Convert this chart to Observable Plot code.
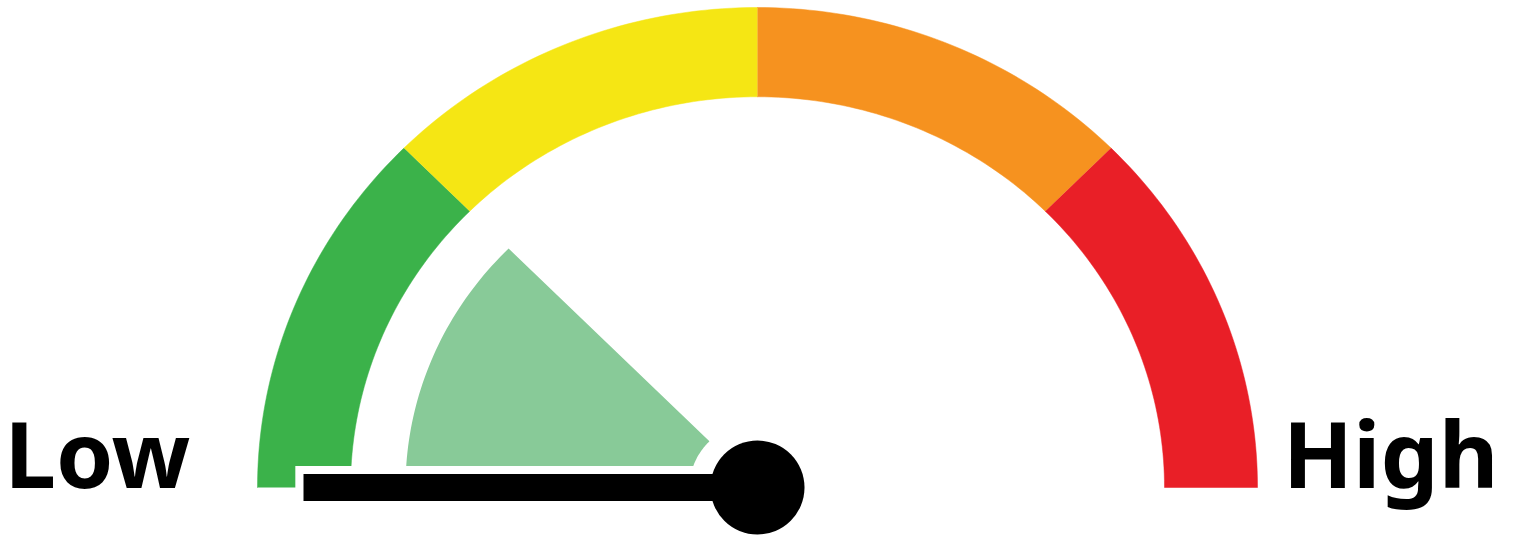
<!DOCTYPE html>
<html><head><meta charset="utf-8">
<script src="https://cdn.jsdelivr.net/npm/d3@7"></script>
<script src="https://cdn.jsdelivr.net/npm/@observablehq/plot@0.6"></script>
<style>html,body{margin:0;padding:0;background:#fff;overflow:hidden}</style>
</head><body><div id="chart"></div>
<script>
// Gauge bands (angles in degrees, 180 = far left, 0 = far right)
const bands = ["Low", "Medium-Low", "Medium-High", "High"];
const bandStart = [180, 135, 90, 45];
const bandEnd = [135, 90, 45, 0];
const bandColors = ["#3bb24a", "#f5e614", "#f6921f", "#e91f27"];
// Highlighted range and needle
const rangeStart = [180];
const rangeEnd = [135];
const needleAngle = [180];
const labels = ["Low", "High"];

const W = 1516, H = 539;
const outerR = 1, innerR = 0.814, wedgeOuter = 0.704, wedgeInner = 0.136, needleLen = 0.908;
const rad = d => d * Math.PI / 180;

function arcPoly(a0, a1, r0, r1, key) {
  const pts = [];
  const n = Math.max(2, Math.ceil(Math.abs(a0 - a1)));
  for (let i = 0; i <= n; i++) { const a = a0 + (a1 - a0) * i / n; pts.push({x: r1 * Math.cos(rad(a)), y: r1 * Math.sin(rad(a)), key}); }
  for (let i = n; i >= 0; i--) { const a = a0 + (a1 - a0) * i / n; pts.push({x: r0 * Math.cos(rad(a)), y: r0 * Math.sin(rad(a)), key}); }
  return pts;
}

const bandPts = bands.flatMap((b, i) => arcPoly(bandStart[i], bandEnd[i], innerR, outerR, bandColors[i]));
const wedgePts = rangeStart.flatMap((s, i) => arcPoly(s, rangeEnd[i], wedgeInner, wedgeOuter, "#88ca98"));
const needle = needleAngle.map(a => ({x1: 0, y1: 0, x2: needleLen * Math.cos(rad(a)), y2: needleLen * Math.sin(rad(a))}));
const needleLine = needle.flatMap(n => [{x: n.x2, y: n.y2}, {x: n.x1, y: n.y1}]);
const needleBack = needle.flatMap(n => [{x: n.x2 * 1.018, y: n.y2}, {x: n.x1, y: n.y1}]);
const textStyle = {y: 0, lineAnchor: "bottom", dy: 0, fontSize: 92, fontWeight: 700, fontFamily: "Noto Sans", fill: "black"};

const chart = Plot.plot({
  width: W, height: H,
  margin: 0,
  x: {domain: [-757 / 500, (W - 757) / 500], axis: null},
  y: {domain: [-(H - 487) / 480, 487 / 480], axis: null},
  color: {type: "identity"},
  marks: [
    Plot.line(bandPts, {x: "x", y: "y", z: "key", fill: "key", stroke: "key", strokeWidth: 0.5, curve: "linear"}),
    Plot.line(wedgePts, {x: "x", y: "y", z: "key", fill: "key", stroke: null, curve: "linear"}),
    Plot.line(needleBack, {x: "x", y: "y", stroke: "white", strokeWidth: 43, strokeLinecap: "butt"}),
    Plot.line(needleLine, {x: "x", y: "y", stroke: "black", strokeWidth: 27, strokeLinecap: "butt"}),
    Plot.dot([{x: 0, y: 0}], {x: "x", y: "y", r: 47, fill: "black", stroke: null}),
    Plot.text([labels[0]], {...textStyle, x: (4 - 757) / 500, text: d => d, textAnchor: "start"}),
    Plot.text([labels[1]], {...textStyle, x: (1498 - 757) / 500, text: d => d, textAnchor: "end"})
  ]
});
document.getElementById("chart").appendChild(chart);
</script>
</body></html>
